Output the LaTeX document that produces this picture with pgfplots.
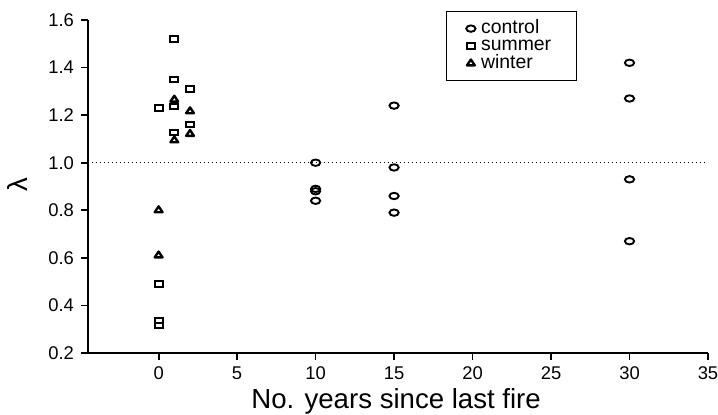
\documentclass[border=0pt]{standalone}
\usepackage{pgfplots}
\pgfplotsset{compat=1.18}
\usepackage{fontspec}
\setmainfont{Liberation Sans}

\begin{document}
\begin{tikzpicture}
% fixed page: axis box is (0,0)--(310pt,166.5pt)
\useasboundingbox (-44pt,-31pt) rectangle (315pt,176.5pt);
\begin{axis}[
    scale only axis,
    width=310pt, height=166.5pt,
    xmin=-4.5, xmax=35,
    ymin=0.2, ymax=1.6,
    axis x line*=bottom,
    axis y line*=left,
    axis line style={-, line width=0.9pt},
    xtick={0,5,...,35},
    ytick={0.2,0.4,...,1.6},
    minor tick num=0,
    tick align=outside,
    major tick length=3.5pt,
    tick style={line width=0.9pt, black},
    yticklabel style={/pgf/number format/.cd, fixed, fixed zerofill, precision=1},
    /pgf/number format/assume math mode=true,
    ticklabel style={font=\fontsize{9.2}{10}\selectfont},
    xlabel={No. years since last fire},
    ylabel={λ},
    xlabel style={font=\fontsize{13.8}{15}\selectfont, at={(axis description cs:0.497,-0.168)}, anchor=base},
    ylabel style={font=\fontsize{13.8}{15}\selectfont, at={(axis description cs:-0.113,0.505)}, anchor=center},
    legend style={
        at={(rel axis cs:0.577,1.027)}, anchor=north west,
        draw=black, line width=0.5pt,
        font=\fontsize{9.7}{9}\selectfont,
        inner xsep=10pt, inner ysep=4.2pt,
        row sep=0pt,
        nodes={inner xsep=2.8pt, inner ysep=0.2pt, text height=6.6pt, text depth=1.7pt},
    },
    legend cell align=left,
    legend image code/.code={\draw[#1] plot[only marks] coordinates {(0pt,0pt)};},
    clip=false,
]

% reference line at lambda = 1
\addplot[black, line width=0.6pt, dash pattern=on 0.6pt off 1.4pt, forget plot]
    coordinates {(-4.5,1) (35,1)};

% control
\addplot[only marks, mark=o, black,
    mark options={mark size=1.6pt, xscale=1.45, solid, line width=0.95pt}]
coordinates {
    (10,1.00) (10,0.89) (10,0.88) (10,0.84)
    (15,1.24) (15,0.98) (15,0.86) (15,0.79)
    (30,1.42) (30,1.27) (30,0.93) (30,0.67)
};
\addlegendentry{control}

% summer
\addplot[only marks, mark=square, black,
    mark options={mark size=1.35pt, xscale=1.5, solid, line width=0.95pt}]
coordinates {
    (0,1.23) (0,0.49) (0,0.336) (0,0.315)
    (1,1.52) (1,1.35) (1,1.237) (1,1.128)
    (2,1.31) (2,1.16)
};
\addlegendentry{summer}

% winter
\addplot[only marks, mark=triangle, black,
    mark options={mark size=1.95pt, xscale=1.15, solid, line width=1.2pt, line join=round}]
coordinates {
    (0,0.80) (0,0.61)
    (1,1.265) (1,1.094)
    (2,1.216) (2,1.121)
};
\addlegendentry{winter}

\end{axis}
\end{tikzpicture}
\end{document}
